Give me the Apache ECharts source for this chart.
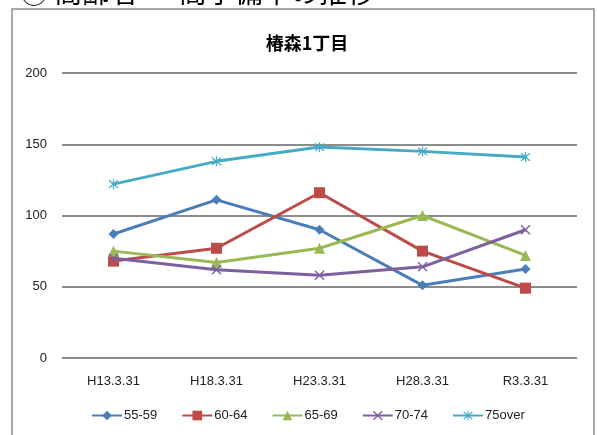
<!DOCTYPE html>
<html><head><meta charset="utf-8">
<script src="https://cdn.jsdelivr.net/npm/echarts@6/dist/echarts.min.js"></script>
<style>html,body{margin:0;padding:0;background:#fff}#c{width:597px;height:435px}</style>
</head><body><div id="c"></div>
<script>
var categories = ['H13.3.31', 'H18.3.31', 'H23.3.31', 'H28.3.31', 'R3.3.31'];
var s5559 = [87, 111, 90, 51, 62.5];
var s6064 = [68, 77, 116, 75, 49];
var s6569 = [75, 67, 77, 100, 72];
var s7074 = [70, 62, 58, 64, 90];
var s75over = [122, 138, 148, 145, 141];
var seriesNames = ['55-59', '60-64', '65-69', '70-74', '75over'];
var yTicks = [0, 50, 100, 150, 200];

var colors = ['#4A7EBB', '#BE4B48', '#98B954', '#7D60A0', '#46AAC5'];
var xPath = 'path://M0,1 L1,0 L5,4 L9,0 L10,1 L6,5 L10,9 L9,10 L5,6 L1,10 L0,9 L4,5 Z';
var starPath = 'path://M0,1 L1,0 L5,4 L9,0 L10,1 L6,5 L10,9 L9,10 L5,6 L1,10 L0,9 L4,5 Z M4.4,-1 L5.6,-1 L5.6,11 L4.4,11 Z';
var symbols = ['diamond', 'rect', 'triangle', xPath, starPath];
var sizes = [10, 11, 11, 10, 10];
var data = [s5559, s6064, s6569, s7074, s75over];
var font = 'Liberation Sans';

var chart = echarts.init(document.getElementById('c'));
chart.setOption({
  animation: false,
  backgroundColor: '#fff',
  title: {
    text: '椿森1丁目', left: 302, top: 29, textAlign: 'center',
    textStyle: {fontFamily: 'Noto Sans CJK JP', fontWeight: 'bold', fontSize: 18, color: '#000'}
  },
  graphic: [
    {type: 'rect', shape: {x: 12, y: 9, width: 582, height: 440}, style: {fill: 'none', stroke: '#8a8a8a', lineWidth: 1.5}, z: 0},
    {type: 'text', left: 20, top: -22, style: {text: '① 高齢者 ー 高予備率の推移', font: '28px "Noto Sans CJK JP"', fill: '#000'}}
  ],
  grid: {left: 62, right: 20, top: 73, bottom: 77},
  legend: {
    bottom: 8, left: 86, itemWidth: 30, itemHeight: 12, itemGap: 24,
    textStyle: {fontFamily: font, fontSize: 13, color: '#222', padding: [0, 0, 0, -3]},
    data: seriesNames
  },
  xAxis: {
    type: 'category', data: categories, boundaryGap: true,
    axisLine: {show: false}, axisTick: {show: false},
    axisLabel: {fontFamily: font, fontSize: 13, color: '#222', margin: 17}
  },
  yAxis: {
    type: 'value', min: yTicks[0], max: yTicks[yTicks.length - 1], interval: 50,
    axisLine: {show: false}, axisTick: {show: false},
    axisLabel: {fontFamily: font, fontSize: 13, color: '#222', margin: 15},
    splitLine: {lineStyle: {color: '#8c8c8c', width: 2}}
  },
  series: seriesNames.map(function (n, i) {
    return {
      name: n, type: 'line', data: data[i], symbol: symbols[i], symbolSize: sizes[i],
      lineStyle: {color: colors[i], width: 3}, itemStyle: {color: colors[i]},
      z: 3 + i
    };
  })
});
</script></body></html>
